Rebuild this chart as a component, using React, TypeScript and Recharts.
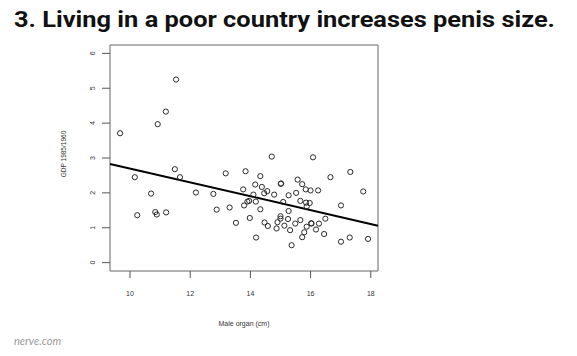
import React from "react";
import { ScatterChart, Scatter, XAxis, YAxis, ReferenceArea, ReferenceLine } from "recharts";

const titleText = "3. Living in a poor country increases penis size.";
const sourceText = "nerve.com";
const xLabel = "Male organ (cm)";
const yLabel = "GDP 1985/1960";

const xTicks = [10, 12, 14, 16, 18];
const yTicks = [0, 1, 2, 3, 4, 5, 6];
const xDomain = [9.335, 18.24];
const yDomain = [-0.24, 6.24];

const organ = [
  11.53, 11.19, 10.92, 9.67, 11.49, 11.66, 10.16, 10.7, 12.19, 12.77, 12.88, 10.24, 10.84, 10.89, 11.2,
  14.71, 16.08, 13.18, 13.84, 14.33, 15.57, 16.66, 17.32, 15.01, 15.02, 14.16, 14.38, 15.72, 13.76, 14.56,
  14.46, 15.84, 16.0, 16.25, 17.75, 14.1, 14.79, 15.27, 15.52, 13.79, 13.9, 13.96, 14.18, 15.09, 15.66,
  15.85, 15.97, 15.87, 17.01, 13.31, 14.33, 15.27, 13.98, 13.52, 14.47, 14.58, 15.0, 15.0, 14.9, 14.87,
  15.25, 15.13, 15.32, 15.49, 15.66, 16.02, 16.03, 15.87, 16.18, 16.28, 16.49, 15.79, 15.72, 16.45, 14.19,
  15.37, 17.01, 17.3, 17.91,
];
const gdp = [
  5.25, 4.33, 3.97, 3.71, 2.68, 2.45, 2.45, 1.98, 2.01, 1.97, 1.52, 1.36, 1.45, 1.38, 1.44,
  3.04, 3.02, 2.56, 2.62, 2.48, 2.38, 2.45, 2.6, 2.26, 2.27, 2.24, 2.17, 2.25, 2.1, 2.05,
  1.99, 2.1, 2.07, 2.07, 2.04, 1.95, 1.95, 1.93, 2.0, 1.64, 1.75, 1.77, 1.75, 1.74, 1.77,
  1.72, 1.71, 1.61, 1.64, 1.58, 1.53, 1.48, 1.28, 1.14, 1.15, 1.05, 1.33, 1.26, 1.16, 0.98,
  1.25, 1.06, 0.93, 1.12, 1.22, 1.13, 1.12, 1.03, 0.95, 1.12, 1.26, 0.87, 0.73, 0.82, 0.72,
  0.5, 0.6, 0.72, 0.68,
];
const fitX = [9.335, 18.24];
const fitY = [2.83, 1.06];

const points = organ.map((x, i) => ({ x, y: gdp[i] }));

const Ring = (props: any) => {
  const { cx, cy } = props;
  if (cx == null || cy == null) return null;
  return <circle cx={cx} cy={cy} r={2.6} fill="none" stroke="#2a2a2a" strokeWidth={1} />;
};

const XTick = (props: any) => {
  const { x, y, payload } = props;
  return (
    <text x={x} y={y + 16} textAnchor="middle" fontSize={7} fontFamily="Liberation Sans, Arial, sans-serif" fill="#333">
      {payload.value}
    </text>
  );
};

const YTick = (props: any) => {
  const { x, y, payload } = props;
  const bx = x - 5;
  return (
    <text x={bx} y={y} transform={`rotate(-90, ${bx}, ${y})`} textAnchor="middle" fontSize={7} fontFamily="Liberation Sans, Arial, sans-serif" fill="#333">
      {payload.value}
    </text>
  );
};

export default function App() {
  return (
    <div style={{ position: "absolute", left: 0, top: 0, width: 577, height: 356, background: "#fff", overflow: "hidden" }}>
      <div style={{ position: "absolute", left: 0, top: 0 }}>
        <ScatterChart width={577} height={356} margin={{ top: 45, right: 199, left: 0, bottom: 0 }}>
          <XAxis
            type="number"
            dataKey="x"
            domain={xDomain}
            ticks={xTicks}
            allowDataOverflow
            axisLine={false}
            tickLine={{ stroke: "#555" }}
            tickSize={7}
            height={85}
            tick={<XTick />}
            interval={0}
          />
          <YAxis
            type="number"
            dataKey="y"
            domain={yDomain}
            ticks={yTicks}
            allowDataOverflow
            axisLine={false}
            tickLine={{ stroke: "#555" }}
            tickSize={8}
            width={110}
            tick={<YTick />}
            interval={0}
          />
          <ReferenceArea x1={xDomain[0]} x2={xDomain[1]} y1={yDomain[0]} y2={yDomain[1]} fill="none" stroke="#666" strokeWidth={1} ifOverflow="visible" />
          <ReferenceLine
            segment={[
              { x: fitX[0], y: fitY[0] },
              { x: fitX[1], y: fitY[1] },
            ]}
            stroke="#000"
            strokeWidth={2}
            ifOverflow="visible"
          />
          <Scatter data={points} shape={<Ring />} isAnimationActive={false} />
        </ScatterChart>
      </div>
      <svg width={577} height={356} style={{ position: "absolute", left: 0, top: 0, pointerEvents: "none" }}>
        <text x={14} y={27} fontSize={22} fontWeight={700} fontFamily="Roboto, sans-serif" fill="#111" textLength={541} lengthAdjust="spacingAndGlyphs">
          {titleText}
        </text>
        <text x={244} y={325.5} textAnchor="middle" fontSize={7} fontFamily="Liberation Sans, Arial, sans-serif" fill="#333">
          {xLabel}
        </text>
        <text x={66} y={154} transform="rotate(-90, 66, 154)" textAnchor="middle" fontSize={6.5} fontFamily="Liberation Sans, Arial, sans-serif" fill="#333">
          {yLabel}
        </text>
        <text x={14} y={345} fontSize={11} fontStyle="italic" fontFamily="Lato, Roboto, sans-serif" fill="#9a9a9a">
          {sourceText}
        </text>
      </svg>
    </div>
  );
}
